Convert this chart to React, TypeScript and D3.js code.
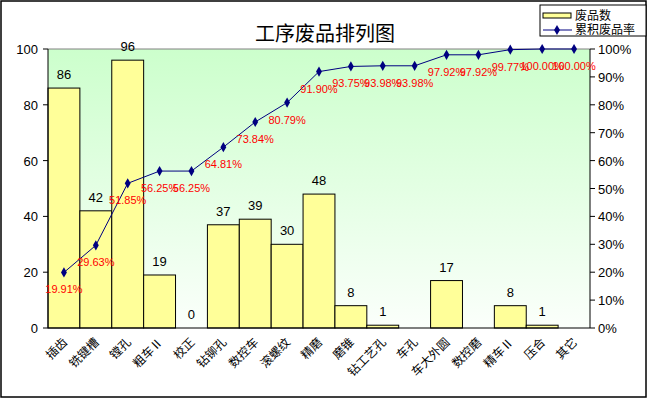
import React from "react";
import * as d3 from "d3";

const categories = ["插齿", "铣键槽", "镗孔", "粗车Ⅱ", "校正", "钻铆孔", "数控车", "滚螺纹", "精磨", "磨锥", "钻工艺孔", "车孔", "车大外圆", "数控磨", "精车Ⅱ", "压合", "其它"];
const counts: (number | null)[] = [86, 42, 96, 19, 0, 37, 39, 30, 48, 8, 1, null, 17, null, 8, 1, null];
const cumulativePct = [19.91, 29.63, 51.85, 56.25, 56.25, 64.81, 73.84, 80.79, 91.9, 93.75, 93.98, 93.98, 97.92, 97.92, 99.77, 100.0, 100.0];
const leftTicks = [0, 20, 40, 60, 80, 100];
const rightTicks = [0, 10, 20, 30, 40, 50, 60, 70, 80, 90, 100];
const title = "工序废品排列图";
const legendLabels = ["废品数", "累积废品率"];

const W = 650, H = 400;
const left = 48, right = 590, top = 49, bottom = 328;
const numFont = "'Liberation Sans', Arial, sans-serif";
const cjkFont = "'Noto Sans CJK SC', sans-serif";

export default function App() {
  const x = d3.scaleBand<string>().domain(categories).range([left, right]).padding(0);
  const yL = d3.scaleLinear().domain([0, 100]).range([bottom, top]);
  const yR = d3.scaleLinear().domain([0, 100]).range([bottom, top]);
  const cx = (i: number) => (x(categories[i]) as number) + x.bandwidth() / 2;
  const line = d3.line<number>().x((_, i) => cx(i)).y((d) => yR(d));
  const diamond = d3.symbol().type(d3.symbolDiamond).size(30)();

  return (
    <svg width={W} height={H} style={{ position: "fixed", left: 0, top: 0, background: "#fff" }}>
      <defs>
        <linearGradient id="bg" x1="0" y1="0" x2="0" y2="1">
          <stop offset="0" stopColor="#ccffcc" />
          <stop offset="1" stopColor="#fbfffb" />
        </linearGradient>
      </defs>
      <rect x={1} y={1} width={645} height={396} fill="#fff" stroke="#000" strokeWidth={1.5} />
      <rect x={left} y={top} width={right - left} height={bottom - top} fill="url(#bg)" />
      <line x1={left} x2={right} y1={top} y2={top} stroke="#808080" />
      <text x={325} y={41} textAnchor="middle" fontFamily={cjkFont} fontSize={20}>{title}</text>

      {counts.map((v, i) =>
        v === null ? null : (
          <g key={"b" + i}>
            {v > 0 && (
              <rect x={x(categories[i])} y={yL(v)} width={x.bandwidth()} height={bottom - yL(v)} fill="#ffff99" stroke="#000" strokeWidth={1} />
            )}
            <text x={cx(i)} y={yL(v) - 9} textAnchor="middle" fontFamily={numFont} fontSize={13}>{v}</text>
          </g>
        )
      )}

      <line x1={left} x2={left} y1={top} y2={bottom} stroke="#000" />
      <line x1={right} x2={right} y1={top} y2={bottom} stroke="#000" />
      <line x1={left} x2={right} y1={bottom} y2={bottom} stroke="#000" />
      {leftTicks.map((t) => (
        <g key={"l" + t}>
          <line x1={left - 5} x2={left} y1={yL(t)} y2={yL(t)} stroke="#000" />
          <text x={38} y={yL(t) + 5} textAnchor="end" fontFamily={numFont} fontSize={13}>{t}</text>
        </g>
      ))}
      {rightTicks.map((t) => (
        <g key={"r" + t}>
          <line x1={right} x2={right + 5} y1={yR(t)} y2={yR(t)} stroke="#000" />
          <text x={598} y={yR(t) + 5} textAnchor="start" fontFamily={numFont} fontSize={13}>{t + "%"}</text>
        </g>
      ))}

      <path d={line(cumulativePct) || ""} fill="none" stroke="#000080" strokeWidth={1} />
      {cumulativePct.map((p, i) => (
        <g key={"p" + i}>
          <path d={diamond || ""} transform={`translate(${cx(i)},${yR(p)})`} fill="#000080" />
          <text x={cx(i)} y={yR(p) + 21} textAnchor="middle" fontFamily={numFont} fontSize={11} fill="#ff0000">{p.toFixed(2) + "%"}</text>
        </g>
      ))}

      {categories.map((c, i) => (
        <text key={"x" + i} transform={`translate(${cx(i) - 2},${bottom + 9}) rotate(-45)`} textAnchor="end" dy="0.7em" fontFamily={cjkFont} fontSize={12}>{c}</text>
      ))}

      <rect x={540} y={5} width={106} height={31} fill="#fff" stroke="#000" />
      <rect x={543} y={13} width={28} height={5} fill="#ffff99" stroke="#000" />
      <text x={575} y={20} fontFamily={cjkFont} fontSize={12}>{legendLabels[0]}</text>
      <line x1={543} x2={572} y1={30} y2={30} stroke="#000080" />
      <path d={diamond || ""} transform="translate(557,30)" fill="#000080" />
      <text x={575} y={34} fontFamily={cjkFont} fontSize={12}>{legendLabels[1]}</text>
    </svg>
  );
}
